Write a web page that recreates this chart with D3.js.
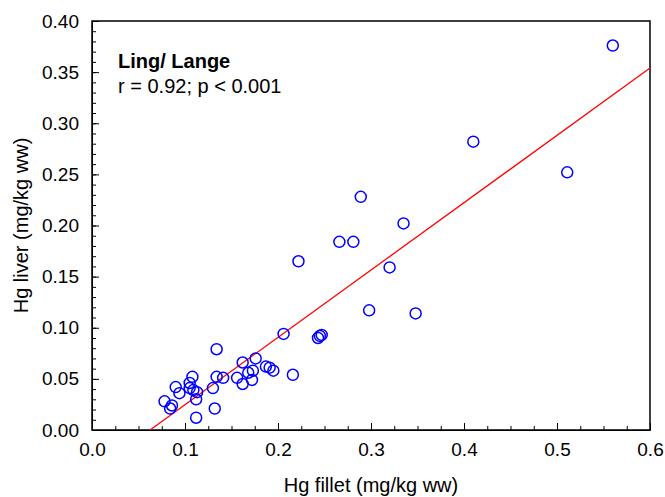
<!DOCTYPE html>
<html>
<head>
<meta charset="utf-8">
<script src="https://cdn.jsdelivr.net/npm/d3@7"></script>
<style>
  body { margin: 0; background: #fff; }
  svg { font-family: "Liberation Sans", Arial, sans-serif; }
</style>
</head>
<body>
<svg id="svg"></svg>
<script>
// Hg fillet (x) vs Hg liver (y), mg/kg ww
var fillet = [0.560, 0.410, 0.511, 0.289, 0.335, 0.266, 0.281, 0.222, 0.320, 0.298,
  0.348, 0.206, 0.243, 0.245, 0.247, 0.216, 0.134, 0.176, 0.162, 0.187,
  0.191, 0.195, 0.156, 0.162, 0.168, 0.173, 0.172, 0.134, 0.141, 0.130,
  0.132, 0.112, 0.108, 0.105, 0.105, 0.109, 0.113, 0.112, 0.090, 0.094,
  0.078, 0.086, 0.084];
var liver = [0.376, 0.282, 0.252, 0.228, 0.202, 0.184, 0.184, 0.165, 0.159, 0.117,
  0.114, 0.094, 0.090, 0.092, 0.093, 0.054, 0.079, 0.070, 0.066, 0.062,
  0.061, 0.058, 0.051, 0.045, 0.056, 0.058, 0.049, 0.052, 0.051, 0.041,
  0.021, 0.012, 0.052, 0.046, 0.041, 0.039, 0.037, 0.030, 0.042, 0.036,
  0.028, 0.024, 0.021];

// fitted line y = a + b*x
var fitA = -0.0411, fitB = 0.6585;

var xTicks = [0.0, 0.1, 0.2, 0.3, 0.4, 0.5, 0.6];
var yTicks = [0.00, 0.05, 0.10, 0.15, 0.20, 0.25, 0.30, 0.35, 0.40];

var width = 665, height = 497;
var margin = { top: 21, right: 15, bottom: 67, left: 92 };
var w = width - margin.left - margin.right,
  h = height - margin.top - margin.bottom;

var scaleX = d3.scaleLinear().domain([0, 0.6]).range([0, w]);
var scaleY = d3.scaleLinear().domain([0, 0.4]).range([h, 0]);

var s = d3.select('#svg').attr('width', width).attr('height', height);
var g = s.append('g').attr('transform', 'translate(' + margin.left + ',' + margin.top + ')');

// minor ticks (inside)
var axisXMinor = d3.axisBottom(scaleX).tickValues(d3.range(0, 0.6001, 0.025))
  .tickSizeInner(-4).tickSizeOuter(0).tickFormat('');
var axisYMinor = d3.axisLeft(scaleY).tickValues(d3.range(0, 0.4001, 0.01))
  .tickSizeInner(-4).tickSizeOuter(0).tickFormat('');

var axisX = d3.axisBottom(scaleX).tickValues(xTicks)
  .tickSizeInner(-7).tickSizeOuter(0).tickPadding(13).tickFormat(d3.format('.1f'));
var axisY = d3.axisLeft(scaleY).tickValues(yTicks)
  .tickSizeInner(-7).tickSizeOuter(0).tickPadding(13).tickFormat(d3.format('.2f'));

g.append('g').attr('transform', 'translate(0,' + h + ')').call(axisXMinor);
g.append('g').call(axisYMinor);
var gx = g.append('g').attr('transform', 'translate(0,' + h + ')').call(axisX);
var gy = g.append('g').call(axisY);

[gx, gy].forEach(function (a) {
  a.selectAll('text').style('font-size', '19px').attr('fill', '#000');
  a.select('.domain').remove();
});
g.selectAll('.tick line').attr('stroke', '#000');

// frame
g.append('rect')
  .attr('x', 0).attr('y', 0).attr('width', w).attr('height', h)
  .attr('fill', 'none').attr('stroke', '#000').attr('stroke-width', 1.5);

// regression line
var x0 = -fitA / fitB;
g.append('line')
  .attr('x1', scaleX(x0)).attr('y1', scaleY(0))
  .attr('x2', scaleX(0.6)).attr('y2', scaleY(fitA + fitB * 0.6))
  .attr('stroke', '#ff0000').attr('stroke-width', 1.3);

// points
g.selectAll('circle.pt')
  .data(d3.range(fillet.length))
  .enter()
  .append('circle')
  .attr('class', 'pt')
  .attr('cx', function (i) { return scaleX(fillet[i]); })
  .attr('cy', function (i) { return scaleY(liver[i]); })
  .attr('r', 5.5)
  .attr('fill', 'none')
  .attr('stroke', '#0000ff')
  .attr('stroke-width', 1.5);

// annotation
g.append('text').attr('x', 26).attr('y', 47)
  .style('font-size', '20px').style('font-weight', 'bold')
  .text('Ling/ Lange');
g.append('text').attr('x', 26).attr('y', 72)
  .style('font-size', '20px')
  .text('r = 0.92; p < 0.001');

// axis titles
s.append('text')
  .attr('x', margin.left + w / 2).attr('y', 492)
  .attr('text-anchor', 'middle').style('font-size', '20px')
  .text('Hg fillet (mg/kg ww)');
s.append('text')
  .attr('transform', 'translate(28,' + (margin.top + h / 2) + ') rotate(-90)')
  .attr('text-anchor', 'middle').style('font-size', '20px')
  .text('Hg liver (mg/kg ww)');
</script>
</body>
</html>
